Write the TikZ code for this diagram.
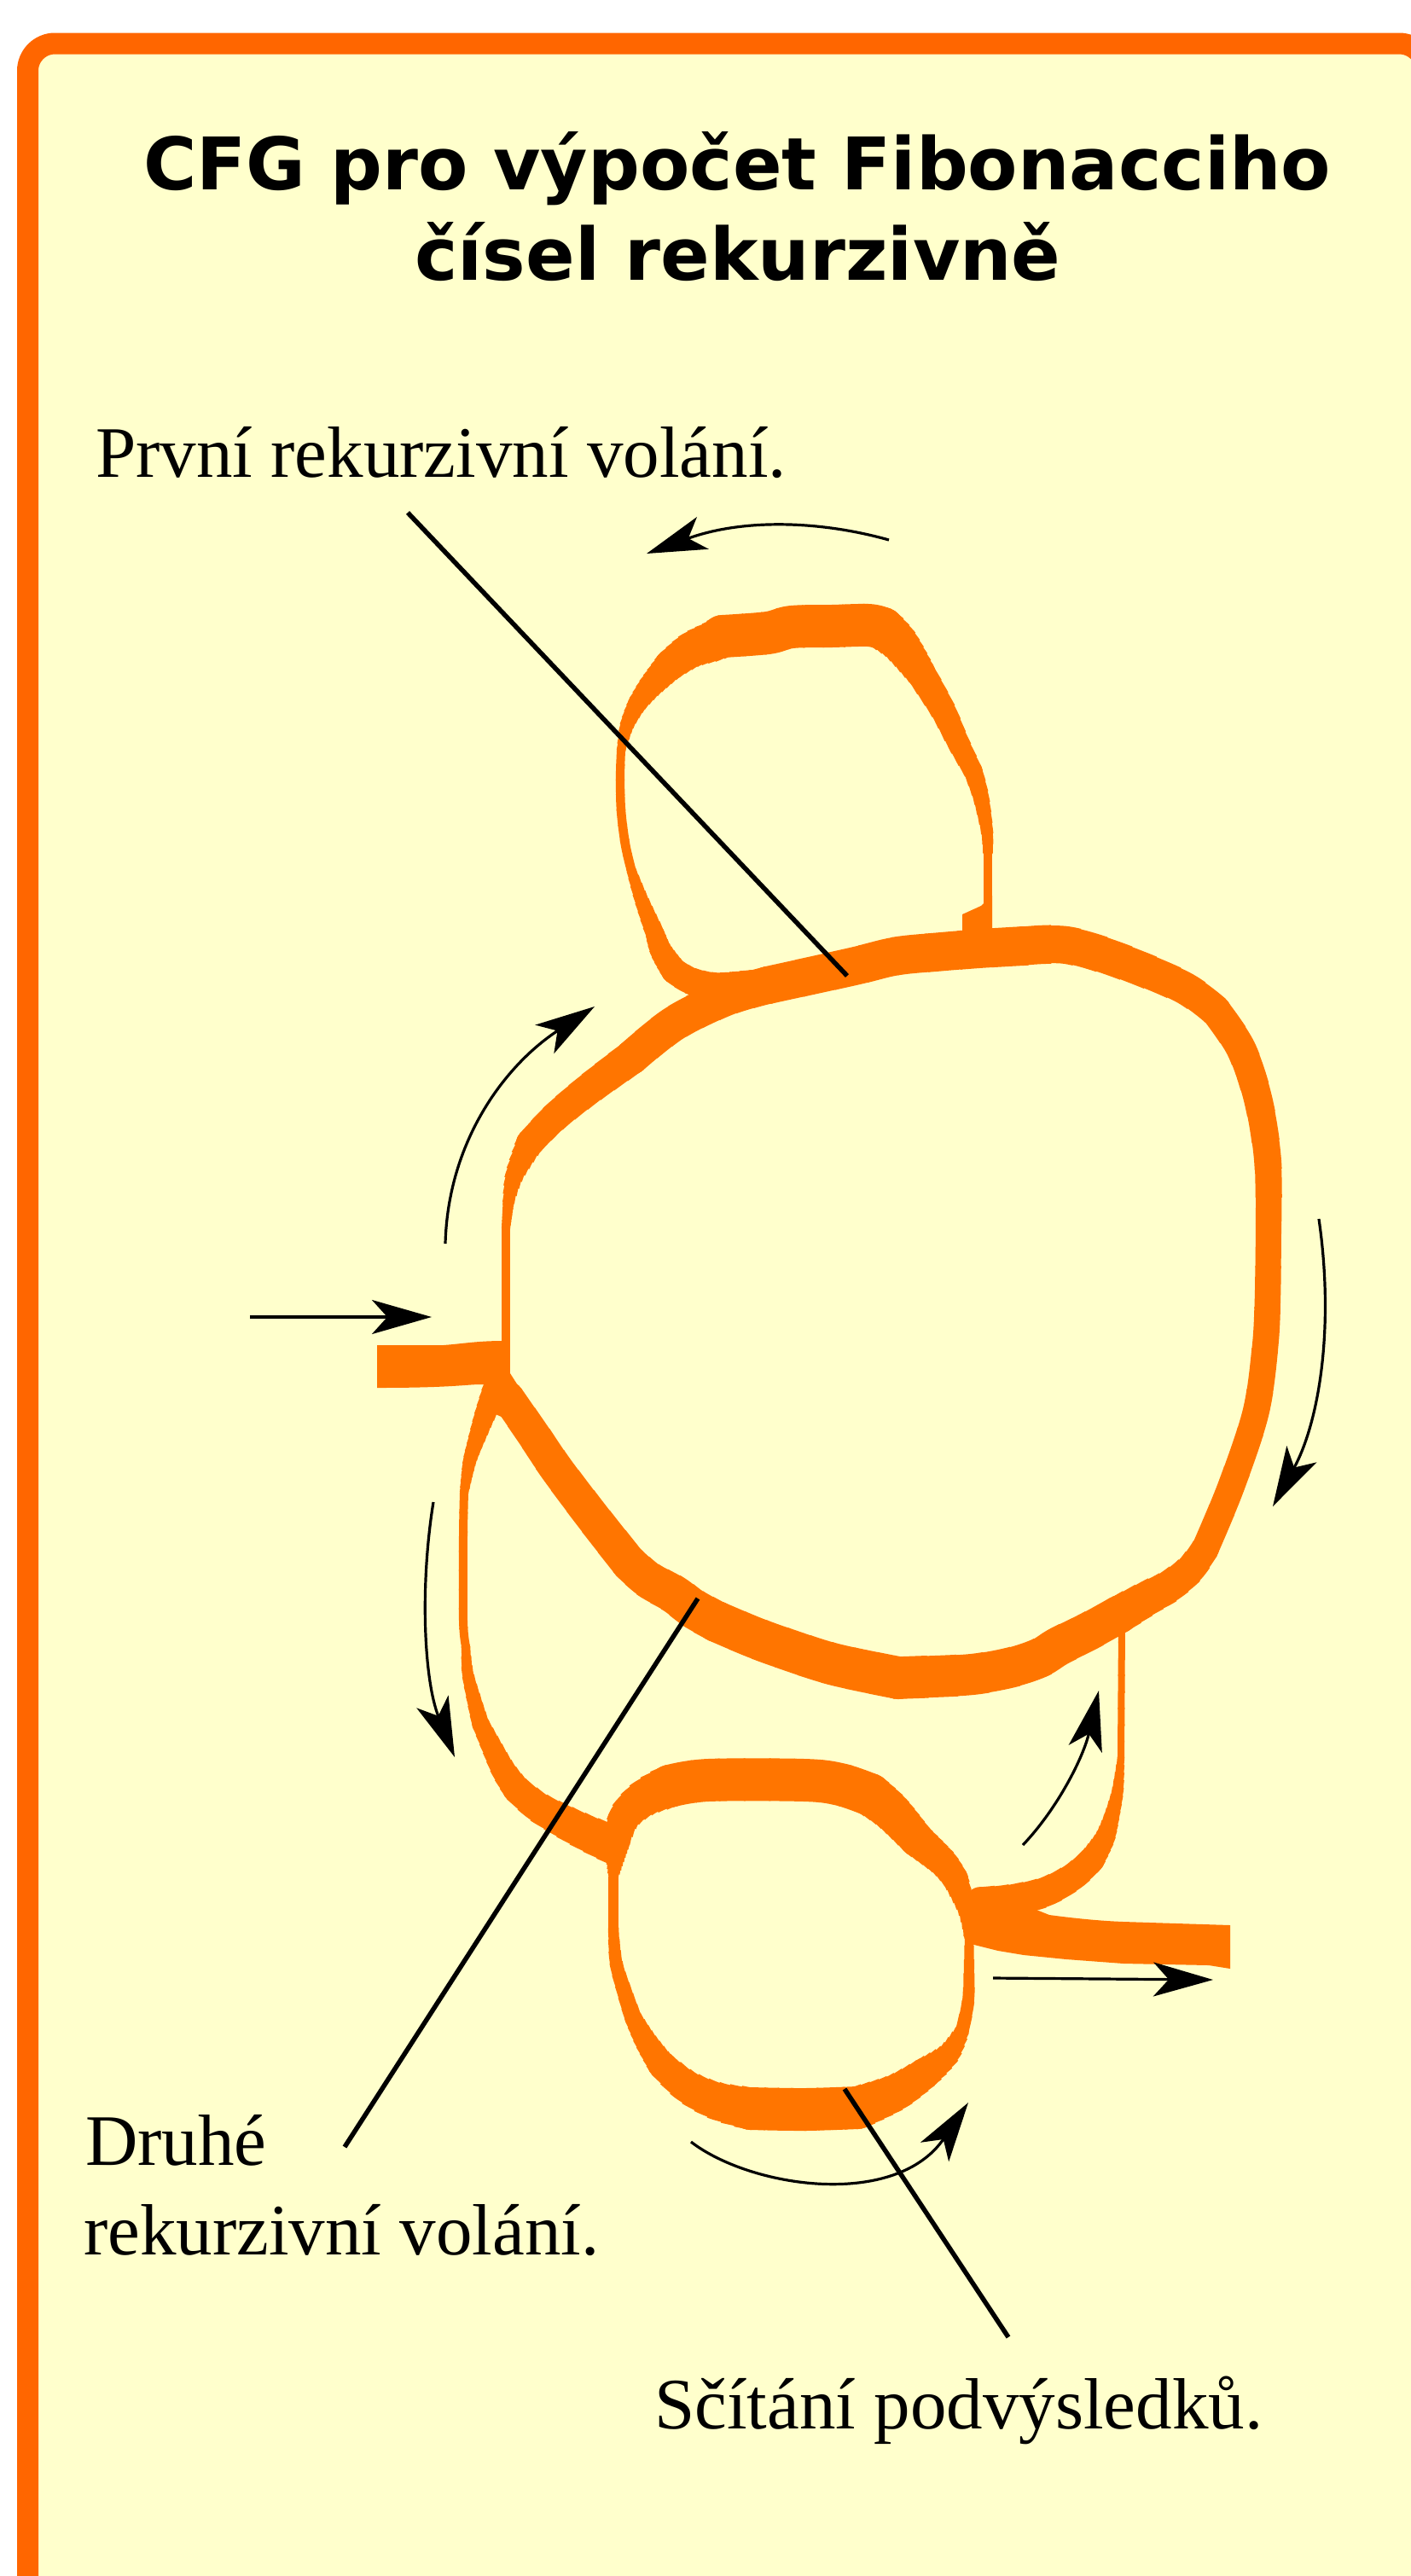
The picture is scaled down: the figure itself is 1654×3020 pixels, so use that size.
\documentclass[tikz,border=0pt]{standalone}
\usepackage{fontspec}
\setmainfont{Liberation Serif}
\newfontfamily\titlefont{DejaVu Sans}
\usetikzlibrary{arrows.meta}
\definecolor{paper}{RGB}{255,255,204}
\definecolor{frame}{RGB}{255,102,0}
\definecolor{flowc}{RGB}{255,117,0}
\tikzset{
  flowfill/.style={fill=flowc},
  flowpiece/.style={draw=flowc, line join=round},
  turnarrow/.style={line width=3.2pt, -{Stealth[length=70pt,width=40pt,inset=18pt]}},
  leader/.style={line width=5.5pt},
  label/.style={inner sep=0pt, anchor=base west, font=\fontsize{85}{105}\selectfont},
  titletext/.style={inner sep=0pt, anchor=base, font=\titlefont\bfseries\fontsize{85}{106}\selectfont}
}
\makeatletter
\newcommand\seglen[1]{\gdef\Ltot{0}\gdef\segfirst{1}\seg@loop#1\relax}
\def\seg@loop{\@ifnextchar\relax{\@gobble}{\seg@one}}
\def\seg@one(#1,#2){%
  \ifnum\segfirst=1
    \xdef\fx{#1}\xdef\fy{#2}\gdef\segfirst{0}%
  \else
    \pgfmathsetmacro\seg@d{veclen(#1-\lastx,#2-\lasty)}%
    \pgfmathsetmacro\seg@t{\Ltot+\seg@d}%
    \xdef\Ltot{\seg@t}%
  \fi
  \xdef\lastx{#1}\xdef\lasty{#2}%
  \seg@loop}
\makeatother
% tapered flow stroke body: start width, end width, coordinates
\newcommand\vsegbody[3]{%
  \seglen{#3}%
  \foreach \k in {0,...,7}{%
    \pgfmathsetmacro\ww{#1+(#2-#1)*(\k+0.5)/8}%
    \pgfmathsetmacro\aa{\Ltot*\k/8}%
    \pgfmathsetmacro\bb{\Ltot/8+2}%
    \ifnum\k=7 \def\bb{6000}\fi
    \ifnum\k=0
      \draw[flowpiece, line width=\ww pt, dash pattern=on \bb pt off 9000pt] plot[smooth,tension=0.55] coordinates {#3};%
    \else
      \draw[flowpiece, line width=\ww pt, dash pattern=on 0pt off \aa pt on \bb pt off 9000pt] plot[smooth,tension=0.55] coordinates {#3};%
    \fi
  }%
}
\newcommand\vseg[3]{%
  \vsegbody{#1}{#2}{#3}%
  \fill[flowc] (\fx,\fy) circle[radius=#1*0.5pt];%
  \fill[flowc] (\lastx,\lasty) circle[radius=#2*0.5pt];%
}
\newcommand\vsegnd[3]{% no round dot at the end
  \vsegbody{#1}{#2}{#3}%
  \fill[flowc] (\fx,\fy) circle[radius=#1*0.5pt];%
}
\begin{document}
\begin{tikzpicture}[x=1pt,y=-1pt]
\useasboundingbox (0,0) rectangle (1654,3020);
\begin{scope}
\clip (0,0) rectangle (1654,3020);
\draw[line width=25pt, draw=frame, fill=paper, rounded corners=32pt] (32.5,51) rectangle (1672,3120);
\end{scope}

% title
\node[titletext] (t1) at (864,222) {CFG pro výpočet Fibonacciho};
\node[titletext] (t2) at (865,328) {čísel rekurzivně};

% ---- entry bar
\fill[flowfill] (442,1577) -- (520,1577) .. controls (545,1575) and (560,1572) .. (590,1572) -- (590,1623) -- (560,1623) .. controls (540,1624) and (520,1627) .. (442,1627) -- cycle;
\fill[flowfill] (570,1620) -- (598,1610) -- (612,1632) -- (590,1662) -- (563,1650) -- cycle;

% ---- big loop
\vseg{10}{10}{(593,1618) (593,1440)}
\vseg{10}{13}{(593,1440) (596,1410)}
\vseg{13}{32}{(596,1410) (603,1378) (621,1340)}
\vseg{32}{40}{(621,1340) (650,1310) (690,1277) (740,1240)}
\vseg{40}{44}{(740,1240) (790,1200) (850,1170) (900,1155)}
\vseg{44}{46}{(900,1155) (1000,1133) (1050,1121) (1100,1116) (1150,1112) (1200,1109)}
\vseg{46}{36}{(1200,1109) (1250,1108) (1309,1125) (1386,1157) (1425,1185)}
\vseg{36}{30}{(1425,1185) (1455,1230) (1475,1290) (1486,1360) (1487,1435)}
\vseg{30}{32}{(1487,1435) (1486,1520) (1483,1579) (1472,1656) (1443,1743) (1413,1815)}
\vseg{32}{44}{(1413,1815) (1395,1840) (1370,1860) (1346,1873) (1313,1892)}
\vseg{44}{50}{(1313,1892) (1277,1912) (1241,1930) (1220,1943) (1192,1953) (1160,1960) (1127,1964) (1053,1967)}
\vseg{50}{48}{(1053,1967) (977,1951) (915,1931) (880,1918) (840,1901)}
\vseg{48}{42}{(840,1901) (813,1886) (790,1869) (760,1852) (737,1832)}
\vseg{42}{38}{(737,1832) (696,1780) (653,1723) (626,1683) (595,1638)}

% ---- upper loop (first recursive call)
\vseg{36}{30}{(882,1155) (840,1157) (810,1150) (790,1138)}
\vseg{30}{22}{(790,1138) (775,1115) (768,1095)}
\vseg{22}{11}{(768,1095) (752,1055) (740,1020)}
\vseg{11}{10}{(740,1020) (733,990) (728,950) (727,910) (728,880)}
\vseg{10}{22}{(728,880) (735,850) (747,825)}
\vseg{22}{36}{(747,825) (762,805) (785,780)}
\vseg{36}{50}{(785,780) (810,762) (835,752) (847,746)}
\vseg{50}{50}{(847,746) (900,742) (928,735) (975,734) (1018,733) (1035,737)}
\vseg{50}{34}{(1035,737) (1055,755) (1080,790)}
\vseg{34}{22}{(1080,790) (1105,832) (1123,870) (1141,905)}
\vseg{22}{11}{(1141,905) (1150,935) (1157,975) (1158,1000)}
\vseg{11}{10}{(1158,1000) (1158,1090)}
\fill[flowfill] (1128,1072) -- (1150,1062) -- (1163,1050) -- (1163,1092) -- (1128,1092) -- cycle;

% ---- left path (second recursive call)
\vseg{30}{18}{(582,1625) (568,1660) (556,1695)}
\vseg{18}{10}{(556,1695) (550,1715) (544,1750)}
\vseg{10}{10}{(544,1750) (543,1800) (543,1900) (546,1930)}
\vseg{10}{20}{(546,1930) (548,1960) (555,1990) (563,2020)}
\vseg{20}{32}{(563,2020) (575,2045) (590,2075) (605,2097)}
\vsegnd{32}{46}{(605,2097) (630,2118) (660,2135) (690,2150) (724,2165)}

% ---- lower loop (sum)
\vseg{12}{30}{(1136,2270) (1133,2240) (1120,2203)}
\vseg{30}{40}{(1120,2203) (1105,2183) (1075,2157)}
\vseg{40}{50}{(1075,2157) (1045,2124) (1020,2104)}
\vseg{50}{50}{(1020,2104) (985,2092) (943,2087) (830,2087) (785,2094)}
\vseg{50}{30}{(785,2094) (755,2108) (732,2130) (723,2160)}
\vseg{30}{11}{(723,2160) (719,2200)}
\vseg{11}{12}{(719,2200) (719,2260)}
\vseg{12}{20}{(719,2260) (722,2300) (732,2335) (742,2365)}
\vseg{20}{32}{(742,2365) (757,2393) (775,2420)}
\vseg{32}{50}{(775,2420) (805,2446) (840,2463) (880,2472)}
\vseg{50}{50}{(880,2472) (943,2473) (1005,2471)}
\vseg{50}{36}{(1005,2471) (1050,2453) (1085,2430)}
\vseg{36}{16}{(1085,2430) (1112,2408) (1128,2380)}
\vseg{16}{9}{(1128,2380) (1135,2345) (1136,2300) (1136,2250)}

% ---- return path and exit
\vseg{8}{8}{(1315,1905) (1314,2060)}
\vseg{8}{18}{(1314,2060) (1310,2100) (1303,2130)}
\vseg{18}{30}{(1303,2130) (1295,2155) (1280,2180)}
\vseg{30}{40}{(1280,2180) (1258,2200) (1225,2218) (1185,2228) (1150,2232)}
\fill[flowfill] (1136,2215) -- (1180,2225) -- (1230,2245) .. controls (1260,2249) and (1290,2252) .. (1317,2253) -- (1442,2257) -- (1442,2308) -- (1417,2304) -- (1317,2302) -- (1250,2297) -- (1200,2292) -- (1170,2287) -- (1138,2279) -- cycle;

% ---- direction arrows
\coordinate (a1s) at (1042,633);  \coordinate (a1e) at (758,649);
\coordinate (a2s) at (522,1458);  \coordinate (a2e) at (697,1180);
\coordinate (a3s) at (1546,1429); \coordinate (a3e) at (1492,1766);
\coordinate (a4s) at (508,1761);  \coordinate (a4e) at (533,2060);
\coordinate (a5s) at (1199,2163); \coordinate (a5e) at (1288,1982);
\coordinate (a6s) at (1164,2319); \coordinate (a6e) at (1422,2321);
\coordinate (a7s) at (810,2511);  \coordinate (a7e) at (1135,2465);
\coordinate (a8s) at (293,1544);  \coordinate (a8e) at (506,1544);
\draw[turnarrow] (a1s) .. controls (960,610) and (870,608) .. (a1e);
\draw[turnarrow] (a2s) .. controls (525,1340) and (590,1250) .. (a2e);
\draw[turnarrow] (a3s) .. controls (1565,1560) and (1545,1670) .. (a3e);
\draw[turnarrow] (a4s) .. controls (492,1860) and (497,1970) .. (a4e);
\draw[turnarrow] (a5s) .. controls (1240,2120) and (1270,2060) .. (a5e);
\draw[turnarrow] (a6s) -- (a6e);
\draw[turnarrow] (a7s) .. controls (880,2565) and (1050,2590) .. (a7e);
\draw[turnarrow] (a8s) -- (a8e);

% ---- labels and leaders
\node[label] (l1) at (112,559) {První rekurzivní volání.};
\node[label] (l2a) at (100,2538) {Druhé};
\node[label] (l2b) at (98,2643) {rekurzivní volání.};
\node[label] (l3) at (767,2847) {Sčítání podvýsledků.};
\coordinate (p1a) at (478,601);  \coordinate (p1b) at (993,1144);
\coordinate (p2a) at (404,2517); \coordinate (p2b) at (818,1874);
\coordinate (p3a) at (990,2449); \coordinate (p3b) at (1182,2740);
\draw[leader] (p1a) -- (p1b);
\draw[leader] (p2a) -- (p2b);
\draw[leader] (p3a) -- (p3b);
\end{tikzpicture}
\end{document}
